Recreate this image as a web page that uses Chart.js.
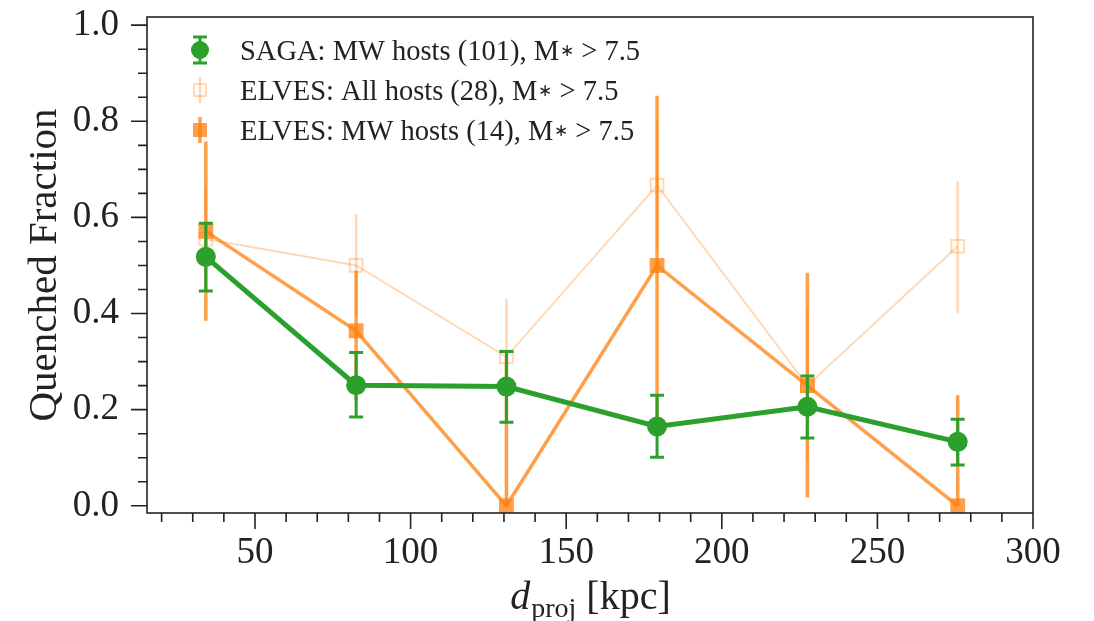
<!DOCTYPE html>
<html>
<head>
<meta charset="utf-8">
<script src="https://cdn.jsdelivr.net/npm/chart.js@4.4.1/dist/chart.umd.min.js"></script>
<style>
  html, body { margin: 0; padding: 0; background: #ffffff; }
  #wrap { width: 1094px; height: 621px; }
</style>
</head>
<body>
<div id="wrap"><canvas id="quenchChart" width="1094" height="621"></canvas></div>
<script>
// bin centres in kpc
const distances = [34.2, 82.5, 130.8, 179.2, 227.5, 275.8];

// SAGA MW hosts
const sagaFrac  = [0.518, 0.251, 0.248, 0.165, 0.206, 0.133];
const sagaErrLo = [0.071, 0.066, 0.074, 0.064, 0.065, 0.048];
const sagaErrHi = [0.070, 0.068, 0.073, 0.065, 0.064, 0.047];

// ELVES all hosts
const elvesAllFrac  = [0.555, 0.500, 0.310, 0.667, 0.250, 0.540];
const elvesAllErrLo = [0.110, 0.107, 0.120, 0.135, 0.157, 0.140];
const elvesAllErrHi = [0.110, 0.107, 0.120, 0.135, 0.160, 0.135];

// ELVES MW hosts
const elvesMwFrac  = [0.571, 0.364, 0.000, 0.500, 0.250, 0.000];
const elvesMwErrLo = [0.186, 0.145, 0.000, 0.353, 0.233, 0.000];
const elvesMwErrHi = [0.187, 0.125, 0.310, 0.353, 0.235, 0.230];

const xTickLabels = [50, 100, 150, 200, 250, 300];
const yTickLabels = [0.0, 0.2, 0.4, 0.6, 0.8, 1.0];

const GREEN = '#2ca02c';
const ORANGE = 'rgba(255,127,14,0.75)';
const ORANGE_LIGHT = 'rgba(255,127,14,0.3)';
const SERIF = 'Liberation Serif';

function toPoints(values) {
    return distances.map((d, i) => ({ x: d, y: values[i] }));
}

// error bars go under each dataset's line and markers
const errorBarPlugin = {
    id: 'errorBars',
    beforeDatasetDraw(chart, args) {
        const ds = chart.data.datasets[args.index];
        if (!ds.errLo) return;
        const ctx = chart.ctx;
        const xs = chart.scales.x, ys = chart.scales.y;
        ctx.save();
        ctx.strokeStyle = ds.errColor;
        ctx.lineWidth = ds.errWidth;
        ds.data.forEach((p, i) => {
            const px = xs.getPixelForValue(p.x);
            const top = ys.getPixelForValue(p.y + ds.errHi[i]);
            const bot = ys.getPixelForValue(p.y - ds.errLo[i]);
            ctx.beginPath();
            ctx.moveTo(px, top);
            ctx.lineTo(px, bot);
            if (ds.capSize) {
                ctx.moveTo(px - ds.capSize, top);
                ctx.lineTo(px + ds.capSize, top);
                ctx.moveTo(px - ds.capSize, bot);
                ctx.lineTo(px + ds.capSize, bot);
            }
            ctx.stroke();
        });
        ctx.restore();
    }
};

// frame, major + minor ticks, axis titles and the legend
const decorPlugin = {
    id: 'decor',
    afterDraw(chart) {
        const ctx = chart.ctx;
        const a = chart.chartArea;
        const xs = chart.scales.x, ys = chart.scales.y;
        ctx.save();
        ctx.strokeStyle = '#222';
        ctx.lineWidth = 1.6;
        ctx.strokeRect(a.left, a.top, a.right - a.left, a.bottom - a.top);

        ctx.beginPath();
        for (let v = 0; v <= 1.0001; v += 0.05) {
            const py = ys.getPixelForValue(v);
            const major = Math.abs(v * 5 - Math.round(v * 5)) < 1e-6;
            ctx.moveTo(a.left, py);
            ctx.lineTo(a.left - (major ? 16 : 9), py);
        }
        for (let v = 20; v <= 300; v += 10) {
            const px = xs.getPixelForValue(v);
            const major = v % 50 === 0;
            ctx.moveTo(px, a.bottom);
            ctx.lineTo(px, a.bottom + (major ? 16 : 9));
        }
        ctx.stroke();

        ctx.fillStyle = '#222';
        // y title
        ctx.save();
        ctx.translate(45, (a.top + a.bottom) / 2);
        ctx.rotate(-Math.PI / 2);
        ctx.font = '41px "' + SERIF + '"';
        ctx.textAlign = 'center';
        ctx.textBaseline = 'middle';
        ctx.fillText('Quenched Fraction', 0, 0);
        ctx.restore();

        // x title: d_proj [kpc]
        const big = '40px "' + SERIF + '"';
        const small = '28px "' + SERIF + '"';
        ctx.textBaseline = 'alphabetic';
        ctx.font = 'italic ' + big;
        const wD = ctx.measureText('d').width;
        ctx.font = small;
        const wSub = ctx.measureText('proj').width;
        ctx.font = big;
        const wRest = ctx.measureText(' [kpc]').width;
        let tx = (a.left + a.right) / 2 - (wD + wSub + wRest) / 2;
        const base = 609;
        ctx.font = 'italic ' + big;
        ctx.fillText('d', tx, base);
        tx += wD + 1;
        ctx.font = small;
        ctx.fillText('proj', tx, base + 8);
        tx += wSub;
        ctx.font = big;
        ctx.fillText(' [kpc]', tx, base);

        // legend
        const rows = [
            { label: 'SAGA: MW hosts (101), M', ds: chart.data.datasets[0] },
            { label: 'ELVES: All hosts (28), M', ds: chart.data.datasets[1] },
            { label: 'ELVES: MW hosts (14), M', ds: chart.data.datasets[2] }
        ];
        const mx = 200;
        rows.forEach((r, i) => {
            const my = 50 + i * 40;
            const ds = r.ds;
            ctx.strokeStyle = ds.errColor;
            ctx.lineWidth = ds.errWidth;
            ctx.beginPath();
            ctx.moveTo(mx, my - 13);
            ctx.lineTo(mx, my + 13);
            if (ds.capSize) {
                ctx.moveTo(mx - 7, my - 13);
                ctx.lineTo(mx + 7, my - 13);
                ctx.moveTo(mx - 7, my + 13);
                ctx.lineTo(mx + 7, my + 13);
            }
            ctx.stroke();
            if (ds.pointStyle === 'circle') {
                ctx.fillStyle = GREEN;
                ctx.beginPath();
                ctx.arc(mx, my, 9, 0, Math.PI * 2);
                ctx.fill();
            } else if (i === 1) {
                ctx.strokeStyle = ORANGE_LIGHT;
                ctx.lineWidth = 2;
                ctx.strokeRect(mx - 6, my - 6, 12, 12);
            } else {
                ctx.fillStyle = ORANGE;
                ctx.fillRect(mx - 7, my - 7, 14, 14);
            }
            ctx.fillStyle = '#222';
            ctx.font = '28.5px "' + SERIF + '"';
            let lx = 240;
            const ly = my + 10;
            ctx.fillText(r.label, lx, ly);
            lx += ctx.measureText(r.label).width + 1;
            ctx.font = '17px "' + SERIF + '"';
            ctx.fillText('\u2217', lx, ly - 4);
            lx += ctx.measureText('\u2217').width;
            ctx.font = '28.5px "' + SERIF + '"';
            ctx.fillText(' > 7.5', lx, ly);
        });
        ctx.restore();
    }
};

const ctx = document.getElementById('quenchChart').getContext('2d');

new Chart(ctx, {
    type: 'line',
    data: {
        datasets: [
            {
                label: 'SAGA: MW hosts (101), M* > 7.5',
                data: toPoints(sagaFrac),
                errLo: sagaErrLo, errHi: sagaErrHi,
                errColor: GREEN, errWidth: 3, capSize: 7,
                borderColor: GREEN,
                backgroundColor: GREEN,
                borderWidth: 5,
                pointStyle: 'circle',
                pointRadius: 10,
                pointBorderWidth: 0,
                pointBackgroundColor: GREEN
            },
            {
                label: 'ELVES: All hosts (28), M* > 7.5',
                data: toPoints(elvesAllFrac),
                errLo: elvesAllErrLo, errHi: elvesAllErrHi,
                errColor: ORANGE_LIGHT, errWidth: 2.5, capSize: 0,
                borderColor: ORANGE_LIGHT,
                backgroundColor: ORANGE_LIGHT,
                borderWidth: 2,
                pointStyle: 'rect',
                pointRadius: 9,
                pointBorderWidth: 2,
                pointBorderColor: ORANGE_LIGHT,
                pointBackgroundColor: 'rgba(255,255,255,0)'
            },
            {
                label: 'ELVES: MW hosts (14), M* > 7.5',
                data: toPoints(elvesMwFrac),
                errLo: elvesMwErrLo, errHi: elvesMwErrHi,
                errColor: ORANGE, errWidth: 3.5, capSize: 0,
                borderColor: ORANGE,
                backgroundColor: ORANGE,
                borderWidth: 3.5,
                pointStyle: 'rect',
                pointRadius: 10.5,
                pointBorderWidth: 0,
                pointBackgroundColor: ORANGE
            }
        ]
    },
    options: {
        responsive: false,
        animation: false,
        layout: { padding: { left: 0, right: 61, top: 17, bottom: 0 } },
        plugins: {
            legend: { display: false },
            tooltip: { enabled: false }
        },
        elements: { line: { tension: 0 } },
        scales: {
            x: {
                type: 'linear',
                min: 15.3,
                max: 300,
                grid: { display: false, drawTicks: false },
                border: { display: false },
                afterBuildTicks: s => { s.ticks = xTickLabels.map(v => ({ value: v })); },
                afterFit: s => {
                    s.height = 108;
                    s.paddingLeft = 0; s.paddingRight = 0;
                },
                ticks: {
                    autoSkip: false,
                    maxRotation: 0,
                    padding: 18,
                    color: '#222',
                    font: { family: SERIF, size: 37 },
                    callback: v => String(v)
                }
            },
            y: {
                min: -0.015,
                max: 1.017,
                grid: { display: false, drawTicks: false },
                border: { display: false },
                afterBuildTicks: s => { s.ticks = yTickLabels.map(v => ({ value: v })); },
                afterFit: s => {
                    s.width = 147;
                    s.paddingTop = 0; s.paddingBottom = 0;
                },
                ticks: {
                    autoSkip: false,
                    padding: 28,
                    color: '#222',
                    font: { family: SERIF, size: 37 },
                    callback: v => Number(v).toFixed(1)
                }
            }
        }
    },
    plugins: [errorBarPlugin, decorPlugin]
});
</script>
</body>
</html>
